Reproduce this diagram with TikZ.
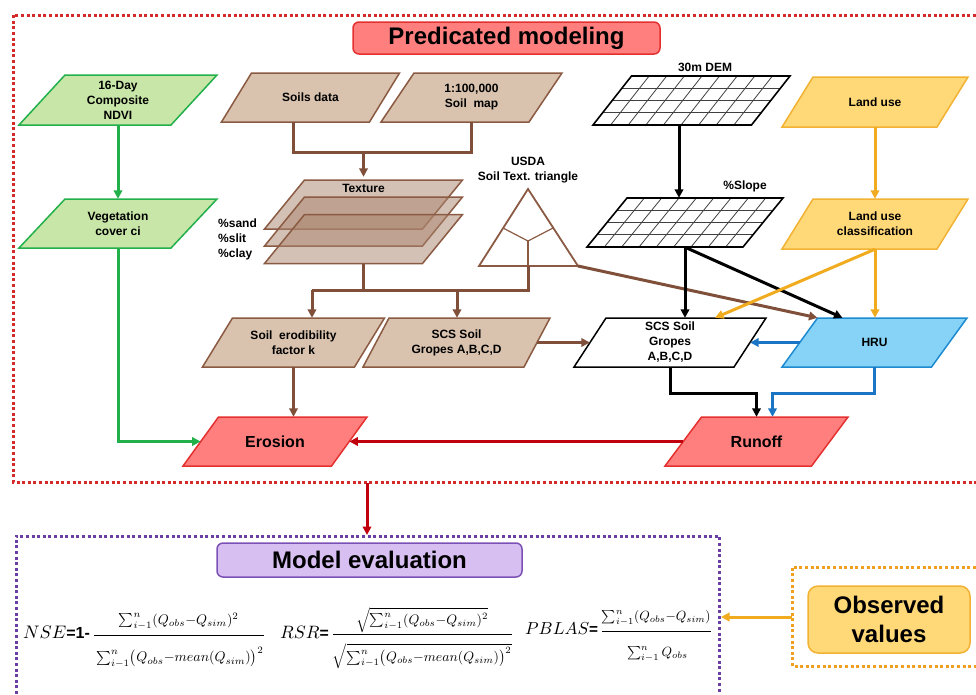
\documentclass[tikz,border=0pt]{standalone}
\usepackage[no-math]{fontspec}
\setmainfont{Liberation Sans}
\usepackage{graphicx}
\usetikzlibrary{arrows.meta,calc}
\definecolor{grfill}{HTML}{C8E6A8}
\definecolor{grline}{HTML}{22B04B}
\definecolor{tanfill}{HTML}{D9C3AE}
\definecolor{tanline}{HTML}{8A5A42}
\definecolor{brline}{HTML}{7F4F3A}
\definecolor{rdfill}{HTML}{FF7F7F}
\definecolor{rdline}{HTML}{E53030}
\definecolor{dkred}{HTML}{C0000C}
\definecolor{ylfill}{HTML}{FFD878}
\definecolor{ylline}{HTML}{F2B233}
\definecolor{ylarr}{HTML}{F0AC1E}
\definecolor{blfill}{HTML}{86D3F7}
\definecolor{blline}{HTML}{1E8AD0}
\definecolor{blarr}{HTML}{1B75C4}
\definecolor{pufill}{HTML}{D8BFF2}
\definecolor{puline}{HTML}{7C51B5}
\definecolor{pudot}{HTML}{6B3EA3}
\definecolor{ordot}{HTML}{F0A020}
\definecolor{rddot}{HTML}{D42A2A}
\newcommand\pgm[8]{%
 \path[#7] ({#2-#4/2-#6/2},{#3+#5/2}) -- ({#2+#4/2-#6/2},{#3+#5/2}) -- ({#2+#4/2+#6/2},{#3-#5/2}) -- ({#2-#4/2+#6/2},{#3-#5/2}) -- cycle;
 \node[txt, minimum width=#4pt, minimum height=#5pt] (#1) at (#2,#3) {#8};}
\newcommand\gridpg[6]{%
 \foreach \i in {1,...,8} {\draw[gridthin] ({#2-#4/2-#6/2+\i*#4/9},{#3+#5/2}) -- ++({#6},{-#5});}
 \foreach \j in {1,2,3} {\draw[gridthin] ({#2-#4/2-#6/2+\j*#6/4},{#3+#5/2-\j*#5/4}) -- ++({#4},0);}
 \draw[gridthick] ({#2-#4/2-#6/2},{#3+#5/2}) -- ++({#4},0) -- ++({#6},{-#5}) -- ++({-#4},0) -- cycle;
 \node[minimum width=#4pt, minimum height=#5pt, inner sep=0pt] (#1) at (#2,#3) {};}
\newcommand\fsum{\textstyle\sum_{i-1}^{n}}
\newcommand\nstrut{\rule[-1.2ex]{0pt}{1ex}}
\newcommand\dstrut{\rule{0pt}{3.4ex}}
\begin{document}
\begin{tikzpicture}[x=1pt,y=-1pt,
 txt/.style={font=\bfseries\fontsize{12}{15}\selectfont, align=center, inner sep=0pt},
 bigtxt/.style={font=\bfseries\fontsize{16}{19}\selectfont, align=center, inner sep=0pt},
 greenbox/.style={fill=grfill, draw=grline, line width=1.5pt},
 tanbox/.style={fill=tanfill, draw=tanline, line width=1.5pt},
 layerbox/.style={fill=tanline!60!tanfill, fill opacity=0.5, draw=tanline, line width=1.5pt},
 redbox/.style={fill=rdfill, draw=rdline, line width=1.5pt},
 yellowbox/.style={fill=ylfill, draw=ylline, line width=1.5pt},
 bluebox/.style={fill=blfill, draw=blline, line width=1.5pt},
 whitebox/.style={fill=white, draw=black, line width=1.5pt},
 gridthin/.style={draw=black!75, line width=0.8pt},
 gridthick/.style={draw=black, line width=1.6pt},
 tip/.style={-{Triangle[length=8.5pt,width=8.5pt]}},
 brl/.style={draw=brline, line width=3pt},
 bra/.style={brl, tip},
 gra/.style={draw=grline, line width=3pt, tip},
 bka/.style={draw=black, line width=3pt, tip},
 yla/.style={draw=ylarr, line width=3pt, tip},
 bla/.style={draw=blarr, line width=3pt, tip},
 rda/.style={draw=dkred, line width=3pt, tip},
 titlebox/.style={rounded corners=6pt, line width=1.5pt, inner sep=0pt, font=\bfseries\fontsize{24}{29}\selectfont, align=center},
 dotframe/.style={line width=3pt, dash pattern=on 3pt off 2.6pt},
 frm/.style={inner sep=0pt, anchor=west}
]
\useasboundingbox (0,0) rectangle (976,694);

% frames
\draw[dotframe, draw=rddot] (976,15) -- (13,15) -- (13,482) -- (976,482);
\draw[dotframe, draw=pudot] (16,694) -- (16,536) -- (719,536) -- (719,694);
\draw[dotframe, draw=ordot] (976,567) -- (792,567) -- (792,666) -- (976,666);

% titles
\node[titlebox, fill=rdfill, draw=rdline, minimum width=307pt, minimum height=32pt] (t1) at (506.5,38) {Predicated modeling};
\node[titlebox, fill=pufill, draw=puline, minimum width=305pt, minimum height=34pt] (t2) at (369.5,560) {Model evaluation};
\node[titlebox, fill=ylfill, draw=ylline, minimum width=162pt, minimum height=67pt, rounded corners=10pt] (t3) at (889,619.5) {Observed\\values};

% green
\pgm{ndvi}{118}{100}{152}{50}{46}{greenbox}{16-Day\\Composite\\NDVI}
\pgm{veg}{118}{223.5}{152}{49}{46}{greenbox}{Vegetation\\cover ci}

% soils
\pgm{soils}{310.5}{97.5}{148}{49}{30}{tanbox}{Soils data}
\pgm{map}{471.5}{97.5}{148}{49}{33}{tanbox}{1:100,000\\Soil\ \ map}
\pgm{tex1}{363.5}{204.5}{158}{49}{40}{layerbox}{}
\pgm{tex2}{363.5}{221.5}{158}{49}{40}{layerbox}{}
\pgm{tex3}{363.5}{239}{158}{49}{40}{layerbox}{}
\node[txt] (texl) at (363.5,188) {Texture};
\node[txt, align=left, anchor=west] (pct) at (218,239.5) {\%sand\\\%slit\\\%clay};

% triangle
\node[txt] (usda) at (528,170.5) {USDA\\Soil Text. triangle};
\coordinate (tA) at (528,189);
\coordinate (tL) at (479,266);
\coordinate (tR) at (578,266);
\coordinate (tC) at (528,241);
\coordinate (tbase) at (528,266);
\draw[draw=tanline, line width=1.8pt, line join=miter] (tA) -- (tL) -- (tR) -- cycle;
\draw[draw=tanline, line width=1.2pt] (503,228) -- (tC) -- (553,228);
\draw[draw=tanline, line width=1.2pt] (tC) -- (tbase);

% middle row
\pgm{erod}{293.5}{342.5}{152}{49}{30}{tanbox}{Soil\ \ erodibility\\factor k}
\pgm{scs}{456.5}{342.5}{161}{49}{26}{tanbox}{SCS Soil\\Gropes A,B,C,D}
\pgm{scsw}{670}{342.5}{160}{49}{32}{whitebox}{SCS Soil\\Gropes\\A,B,C,D}
\pgm{hru}{874.5}{342.5}{149.5}{49}{35.5}{bluebox}{HRU}

% bottom row
\pgm{erosion}{275}{441.5}{148.5}{49}{35.5}{redbox}{}
\node[bigtxt] (erosl) at (275,441.5) {Erosion};
\pgm{runoff}{756.5}{441.5}{146.5}{49}{36.5}{redbox}{}
\node[bigtxt] (runl) at (756.5,441.5) {Runoff};

% grids
\gridpg{dem}{691.5}{100.5}{158.5}{49}{38.5}
\gridpg{slope}{685}{222.5}{156}{49}{40}
\node[txt] (deml) at (705,67) {30m DEM};
\node[txt] (slopel) at (745,186) {\%Slope};

% land use
\pgm{landuse}{875}{102}{155}{50}{31}{yellowbox}{Land use}
\pgm{luclass}{875}{224}{155}{50}{31}{yellowbox}{Land use\\classification}

% connectors: green
\draw[gra] (ndvi.south) -- (veg.north);
\draw[gra] (veg.south) |- (erosion.west);

% brown
\coordinate (j1) at (363.5,152);
\draw[brl] ([xshift=-17pt]soils.south) |- (j1) -| (map.south);
\draw[bra] (j1) -- ([yshift=3pt]tex1.north);
\coordinate (j3) at (312,290);
\coordinate (j4) at (457,290);
\draw[brl] (tex3.south) -- (tex3.south |- j3);
\draw[brl] (j3) -| (tbase);
\draw[bra] (j3) -- (erod.north -| j3);
\draw[bra] (j4) -- (scs.north -| j4);
\draw[bra] (tR) -- ([xshift=-57pt]hru.north);
\draw[bra] (scs.east) -- (scsw.west);
\draw[bra] (erod.south) -- (erod.south |- erosion.north);

% black
\draw[bka] ([xshift=-12.5pt]dem.south) -- ([xshift=-12.5pt]dem.south |- slope.north);
\draw[bka] (slope.south) -- (slope.south |- scsw.north);
\draw[bka] (slope.south) -- ([xshift=-32pt]hru.north);
\draw[bka] (scsw.south) -- ++(0,26) -| (runoff.north);

% yellow
\draw[yla] (landuse.south) -- (luclass.north);
\draw[yla] (luclass.south) -- (luclass.south |- hru.north);
\draw[yla] (luclass.south) -- ([xshift=45pt]scsw.north);

% blue
\draw[bla] (hru.west) -- (scsw.east);
\draw[bla] (hru.south) -- ++(0,26) -| ([xshift=16pt]runoff.north);

% red
\draw[rda] (runoff.west) -- (erosion.east);
\coordinate (rb) at (367,483);
\coordinate (pb) at (367,535);
\draw[rda] (rb) -- (pb);
\coordinate (ob) at (792,617);
\coordinate (pr) at (721,617);
\draw[yla] (ob) -- (pr);

% formulas
\node[frm] (nse) at (23,640) {\resizebox{242pt}{!}{\scalebox{1.3}{$NSE$}\scalebox{1.15}{\bfseries=1-}\,$\displaystyle\frac{\fsum(Q_{obs}{-}Q_{sim})^2\nstrut}{\dstrut\fsum\bigl(Q_{obs}{-}mean(Q_{sim})\bigr)^2}$}};
\node[frm] (rsr) at (280,638) {\resizebox{233pt}{!}{\scalebox{1.3}{$RSR$}\scalebox{1.15}{\bfseries=}\,$\displaystyle\frac{\sqrt{\fsum(Q_{obs}{-}Q_{sim})^2}\nstrut}{\dstrut\sqrt{\fsum\bigl(Q_{obs}{-}mean(Q_{sim})\bigr)^2}}$}};
\node[frm] (pbl) at (525,636) {\resizebox{187pt}{!}{\scalebox{1.3}{$PBLAS$}\scalebox{1.15}{\bfseries=}\,$\displaystyle\frac{\fsum(Q_{obs}{-}Q_{sim})\nstrut}{\dstrut\fsum Q_{obs}}$}};
\end{tikzpicture}
\end{document}
